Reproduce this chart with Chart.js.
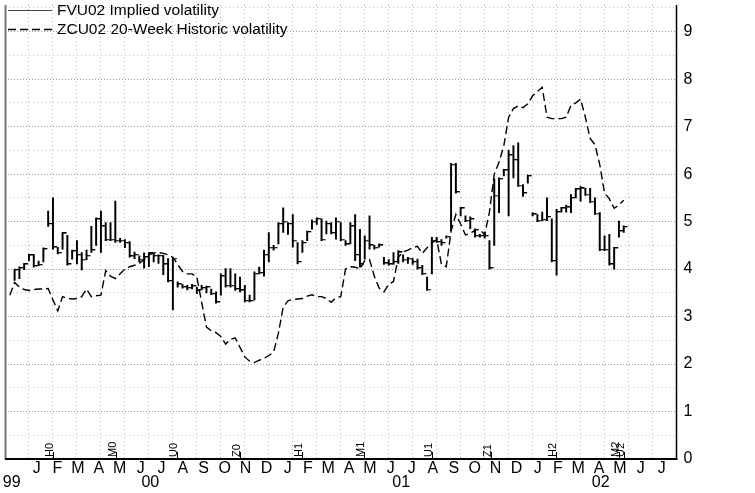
<!DOCTYPE html>
<html lang="en">
<head>
<meta charset="UTF-8" />
<title>FVU02 implied vs ZCU02 historic volatility</title>
<style>
  html, body { margin: 0; padding: 0; background: #fff; }
  .box { width: 755px; height: 493px; }
</style>
</head>
<body>
<div class="box"><canvas id="volChart" width="755" height="493"></canvas></div>
<script src="https://cdn.jsdelivr.net/npm/chart.js"></script>
<script>
// x is counted in weeks from 1 Dec 1999 (left edge of the plot)
const impliedStartWeek = 2;
const impliedHigh = [
  4.00, 4.05, 4.12, 4.31, 4.31, 4.17, 4.45, 5.22, 5.50, 4.46, 4.77, 4.71, 4.40, 4.60, 4.35, 4.40,
  4.90, 5.08, 5.22, 4.98, 4.98, 5.43, 4.65, 4.62, 4.58, 4.36, 4.28, 4.34, 4.35, 4.32, 4.30, 4.29,
  4.22, 4.25, 3.73, 3.68, 3.66, 3.68, 3.62, 3.66, 3.64, 3.58, 3.52, 3.90, 4.01, 4.01, 3.90, 3.83,
  3.66, 3.45, 3.94, 4.04, 4.40, 4.77, 4.50, 4.98, 5.29, 4.98, 5.15, 4.56, 4.60, 4.80, 5.04, 5.08,
  5.06, 5.01, 4.98, 5.08, 4.98, 4.60, 4.98, 5.15, 4.84, 4.70, 5.12, 4.50, 4.53, 4.25, 4.20, 4.35,
  4.39, 4.30, 4.25, 4.22, 4.21, 4.08, 3.83, 4.67, 4.67, 4.62, 4.70, 6.23, 6.23, 5.30, 5.12, 5.10,
  4.85, 4.73, 4.78, 4.60, 5.90, 5.92, 6.10, 6.50, 6.60, 6.66, 5.78, 5.98, 5.19, 5.15, 5.20, 5.50,
  5.06, 5.26, 5.30, 5.35, 5.57, 5.70, 5.74, 5.70, 5.70, 5.50, 5.19, 4.70, 4.73, 4.46, 5.01, 4.91
];
const impliedLow = [
  3.76, 3.80, 3.99, 4.18, 4.04, 4.07, 4.15, 4.90, 4.42, 4.32, 4.42, 4.08, 4.21, 4.11, 3.98, 4.20,
  4.35, 4.50, 4.35, 4.60, 4.60, 4.56, 4.56, 4.45, 4.25, 4.22, 4.15, 4.02, 4.05, 4.15, 4.12, 3.88,
  3.73, 3.14, 3.62, 3.60, 3.56, 3.58, 3.48, 3.56, 3.50, 3.46, 3.28, 3.45, 3.62, 3.62, 3.55, 3.52,
  3.31, 3.31, 3.35, 3.90, 3.85, 4.15, 4.40, 4.53, 4.77, 4.73, 4.46, 4.11, 4.35, 4.60, 4.84, 4.94,
  4.60, 4.74, 4.74, 4.63, 4.60, 4.50, 4.53, 4.18, 4.04, 4.21, 4.42, 4.42, 4.46, 4.10, 4.08, 4.10,
  4.12, 4.15, 4.12, 4.10, 4.00, 3.88, 3.55, 3.90, 4.56, 4.50, 4.65, 4.81, 5.60, 5.12, 5.00, 4.85,
  4.67, 4.67, 4.65, 4.00, 4.50, 5.19, 5.96, 5.12, 5.92, 5.74, 5.53, 5.81, 5.12, 5.00, 5.02, 5.02,
  4.15, 3.87, 5.20, 5.20, 5.19, 5.50, 5.43, 5.55, 5.40, 5.15, 4.39, 4.39, 4.08, 4.00, 4.67, 4.77
];
const impliedClose = [
  3.98, 4.02, 4.10, 4.29, 4.06, 4.09, 4.42, 4.95, 4.46, 4.34, 4.75, 4.10, 4.38, 4.30, 4.20, 4.28,
  4.40, 5.05, 4.90, 4.62, 4.62, 4.60, 4.60, 4.55, 4.27, 4.30, 4.20, 4.25, 4.33, 4.28, 4.28, 4.10,
  3.75, 4.22, 3.68, 3.62, 3.60, 3.64, 3.55, 3.60, 3.62, 3.48, 3.30, 3.85, 3.65, 3.65, 3.58, 3.55,
  3.33, 3.33, 3.90, 3.92, 4.30, 4.45, 4.45, 4.95, 5.00, 4.95, 4.60, 4.15, 4.55, 4.78, 5.00, 5.06,
  4.62, 4.95, 4.76, 5.00, 4.62, 4.52, 4.90, 4.30, 4.10, 4.60, 4.50, 4.45, 4.50, 4.12, 4.10, 4.15,
  4.35, 4.20, 4.22, 4.15, 4.02, 3.90, 3.57, 4.60, 4.57, 4.55, 4.68, 6.20, 5.62, 5.28, 5.02, 5.05,
  4.70, 4.70, 4.70, 4.02, 5.55, 5.90, 6.08, 6.40, 6.30, 5.76, 5.60, 5.96, 5.15, 5.02, 5.04, 5.10,
  4.17, 5.20, 5.28, 5.30, 5.50, 5.68, 5.70, 5.57, 5.42, 5.17, 4.41, 4.41, 4.10, 4.44, 4.80, 4.89
];
const historicStartWeek = 1;
const historicVol = [
  3.45, 3.72, 3.62, 3.57, 3.55, 3.57, 3.58, 3.58, 3.59, 3.35, 3.12, 3.42, 3.38, 3.37, 3.38, 3.42,
  3.58, 3.42, 3.44, 3.45, 3.97, 3.85, 3.80, 3.90, 4.00, 4.05, 4.08, 4.12, 4.20, 4.30, 4.34, 4.35,
  4.33, 4.30, 4.25, 4.10, 3.95, 3.90, 3.90, 3.83, 3.30, 2.78, 2.70, 2.66, 2.58, 2.42, 2.52, 2.55,
  2.35, 2.15, 2.06, 2.03, 2.08, 2.12, 2.18, 2.25, 2.65, 3.20, 3.33, 3.36, 3.37, 3.38, 3.43, 3.46,
  3.42, 3.42, 3.38, 3.30, 3.40, 3.42, 4.00, 4.05, 4.04, 4.00, 4.18, 4.20, 3.85, 3.60, 3.52, 3.68,
  3.74, 4.25, 4.36, 4.40, 4.45, 4.48, 4.33, 4.45, 4.55, 4.62, 4.10, 4.05, 4.80, 5.15, 4.95, 4.72,
  4.75, 4.82, 4.84, 4.72, 5.20, 6.00, 6.25, 6.60, 7.20, 7.38, 7.44, 7.40, 7.48, 7.65, 7.74, 7.83,
  7.20, 7.17, 7.17, 7.17, 7.20, 7.45, 7.50, 7.58, 7.20, 6.75, 6.62, 6.20, 5.60, 5.48, 5.28, 5.35,
  5.45
];

const monthLetters = ["J", "F", "M", "A", "M", "J", "J", "A", "S", "O", "N", "D"];
const yearLabels = ["99", "00", "01", "02"];
const yearLabelWeeks = [1.4, 30.3, 82.6, 124.2];
const contractLabels = ["H0", "M0", "U0", "Z0", "H1", "M1", "U1", "Z1", "H2", "M2", "U2"];
const contractWeeks = [10.1, 23.1, 35.8, 49.0, 62.0, 74.9, 89.0, 101.25, 114.8, 128.0, 129.1];

// month letters sit in the middle of each month, Jan 2000 .. Jul 2002
const DAY = 86400000;
const origin = Date.UTC(1999, 11, 1);
const monthTicks = [];
for (let m = 0; m < 31; m++) {
  const a = Date.UTC(2000, m, 1), b = Date.UTC(2000, m + 1, 1);
  monthTicks.push({ value: ((a + b) / 2 - origin) / DAY / 7, label: monthLetters[m % 12] });
}
const gridWeeks = [];
for (let w = 0; w <= 140; w += 5) gridWeeks.push(w);
const halfSteps = [];
for (let k = 0; k <= 19; k++) halfSteps.push(k / 2);

const FONT = "'Liberation Sans', Arial, Helvetica, sans-serif";
Chart.defaults.font.family = FONT;
Chart.defaults.color = "#000";

// close tick: short dash to the right of the bar
const closeTick = document.createElement("canvas");
closeTick.width = 10;
closeTick.height = 2;
const tc = closeTick.getContext("2d");
tc.fillStyle = "#000";
tc.fillRect(5, 0, 4, 1.3);

const decor = {
  id: "decor",
  afterDraw(chart) {
    const { ctx, chartArea: a, scales } = chart;
    ctx.save();
    // frame
    ctx.lineWidth = 2;
    ctx.strokeStyle = "#777";
    ctx.beginPath(); ctx.moveTo(a.left + 0.5, a.top); ctx.lineTo(a.left + 0.5, a.bottom); ctx.stroke();
    ctx.strokeStyle = "#000";
    ctx.beginPath(); ctx.moveTo(a.left, a.bottom); ctx.lineTo(a.right + 1, a.bottom); ctx.stroke();
    ctx.lineWidth = 1.5;
    ctx.beginPath(); ctx.moveTo(a.right, a.top); ctx.lineTo(a.right, a.bottom); ctx.stroke();

    // contract roll markers
    ctx.lineWidth = 1;
    ctx.fillStyle = "#000";
    ctx.font = "11px " + FONT;
    contractLabels.forEach((lab, i) => {
      const px = Math.round(scales.x.getPixelForValue(contractWeeks[i])) + 0.5;
      ctx.beginPath(); ctx.moveTo(px, a.bottom); ctx.lineTo(px, a.bottom - 7); ctx.stroke();
      ctx.save();
      ctx.translate(px - 1, a.bottom - 2);
      ctx.rotate(-Math.PI / 2);
      ctx.textAlign = "left";
      ctx.textBaseline = "alphabetic";
      ctx.fillText(lab, 0, 0);
      ctx.restore();
    });

    // legend
    const ds = chart.data.datasets;
    ctx.font = "15.5px " + FONT;
    ctx.textAlign = "left";
    ctx.textBaseline = "middle";
    ctx.strokeStyle = "#444";
    ctx.lineWidth = 1;
    ctx.beginPath(); ctx.moveTo(8, 10.5); ctx.lineTo(52, 10.5); ctx.stroke();
    ctx.fillText(ds[0].label, 57, 10.5);
    ctx.strokeStyle = "#000";
    ctx.lineWidth = 1.5;
    ctx.setLineDash([8, 4]);
    ctx.beginPath(); ctx.moveTo(8, 29.5); ctx.lineTo(53, 29.5); ctx.stroke();
    ctx.setLineDash([]);
    ctx.fillText(ds[2].label, 57, 29.5);
    ctx.restore();
  }
};

const isWhole = (c) => c.tick && Number.isInteger(c.tick.value);

new Chart(document.getElementById("volChart"), {
  type: "line",
  data: {
    datasets: [
      {
        type: "bar",
        label: "FVU02 Implied volatility",
        data: impliedHigh.map((h, i) => ({ x: impliedStartWeek + i, y: [impliedLow[i], h] })),
        backgroundColor: "#000",
        borderWidth: 0,
        barThickness: 1.3,
        grouped: false,
        order: 2
      },
      {
        type: "line",
        label: "close",
        data: impliedClose.map((c, i) => ({ x: impliedStartWeek + i, y: c })),
        showLine: false,
        pointStyle: closeTick,
        pointRadius: 3,
        order: 1
      },
      {
        type: "line",
        label: "ZCU02 20-Week Historic volatility",
        data: historicVol.map((v, i) => ({ x: historicStartWeek + i, y: v })),
        borderColor: "#000",
        borderWidth: 1.4,
        borderDash: [8, 4],
        pointRadius: 0,
        fill: false,
        tension: 0,
        order: 0
      }
    ]
  },
  options: {
    responsive: false,
    animation: false,
    events: [],
    devicePixelRatio: 1,
    layout: { padding: { left: 3, top: 0, right: 0, bottom: 0 } },
    plugins: { legend: { display: false }, tooltip: { enabled: false } },
    scales: {
      x: {
        type: "linear", position: "bottom", min: 0, max: 140, offset: false, weight: 0,
        afterBuildTicks: (s) => { s.ticks = gridWeeks.map((v) => ({ value: v })); },
        ticks: { display: false },
        grid: { color: "#b8b8b8", lineWidth: 1, drawTicks: false, offset: false },
        border: { display: false, dash: [1, 3] },
        afterFit: (s) => { s.height = 0; s.paddingLeft = 0; s.paddingRight = 0; }
      },
      xMonth: {
        type: "linear", axis: "x", position: "bottom", min: 0, max: 140, offset: false, weight: 1,
        afterBuildTicks: (s) => { s.ticks = monthTicks.map((t) => ({ value: t.value })); },
        ticks: {
          autoSkip: false, maxRotation: 0, minRotation: 0, padding: 0,
          font: { size: 16 },
          callback: (v, i) => monthTicks[i].label
        },
        grid: { display: false, drawTicks: false },
        border: { display: false },
        afterFit: (s) => { s.height = 14; s.paddingLeft = 0; s.paddingRight = 0; }
      },
      xYear: {
        type: "linear", axis: "x", position: "bottom", min: 0, max: 140, offset: false, weight: 2,
        afterBuildTicks: (s) => { s.ticks = yearLabelWeeks.map((v) => ({ value: v })); },
        ticks: {
          autoSkip: false, maxRotation: 0, minRotation: 0, padding: 0,
          font: { size: 16 },
          callback: (v, i) => yearLabels[i]
        },
        grid: { display: false, drawTicks: false },
        border: { display: false },
        afterFit: (s) => { s.height = 20; s.paddingLeft = 0; s.paddingRight = 0; }
      },
      y: {
        type: "linear", position: "right", min: 0, max: 9.5625,
        afterBuildTicks: (s) => { s.ticks = halfSteps.map((v) => ({ value: v })); },
        ticks: {
          autoSkip: false, padding: 7,
          font: { size: 16 },
          callback: (v) => (Number.isInteger(v) ? String(v) : "")
        },
        grid: {
          drawTicks: false, lineWidth: 1,
          color: (c) => (isWhole(c) ? "#9a9a9a" : "#bcbcbc")
        },
        border: { display: false, dash: (c) => (isWhole(c) ? [1, 2] : [1, 3]) },
        afterFit: (s) => { s.width = 78.5; s.paddingTop = 0; s.paddingBottom = 0; }
      }
    }
  },
  plugins: [decor]
});
</script>
</body>
</html>
